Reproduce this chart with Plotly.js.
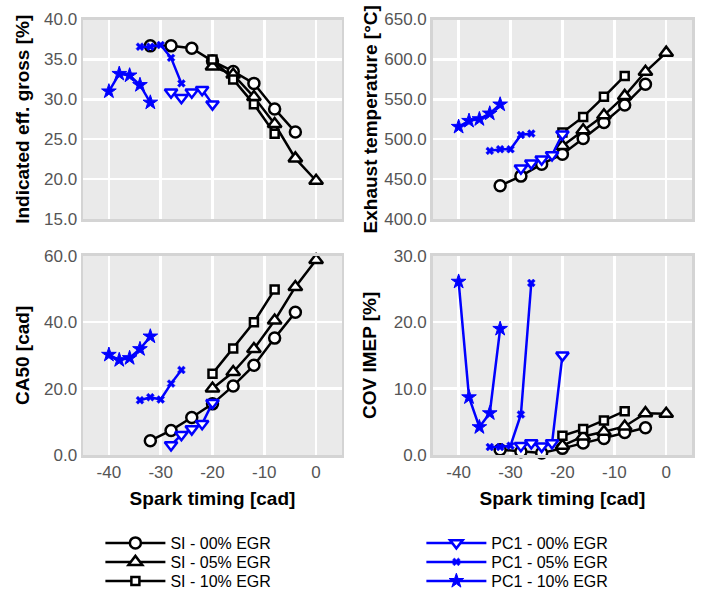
<!DOCTYPE html>
<html>
<head>
<meta charset="utf-8">
<script src="https://cdn.plot.ly/plotly-3.0.1.min.js"></script>
<style>
  html, body { margin: 0; padding: 0; background: #ffffff; }
  #chart { width: 707px; height: 592px; }
</style>
</head>
<body>
<div id="chart"></div>
<script>
// Spark timing sweeps [cad] for each operating mode
const sparkSI00 = [-32, -28, -24, -20, -16, -12, -8, -4];
const sparkSI05 = [-20, -16, -12, -8, -4, 0];
const sparkSI10 = [-20, -16, -12, -8];
const sparkPC00 = [-28, -26, -24, -22, -20];
const sparkPC05 = [-34, -32, -30, -28, -26];
const sparkPC10 = [-40, -38, -36, -34, -32];

// Indicated gross efficiency [%]
const effSI00 = [36.7, 36.7, 36.4, 34.8, 33.5, 32.0, 28.8, 25.9];
const effSI05 = [34.1, 33.1, 30.3, 26.9, 22.6, 19.8];
const effSI10 = [35.0, 32.5, 29.4, 25.7];
const effPC00 = [30.9, 30.2, 30.9, 31.2, 29.4];
const effPC05 = [36.6, 36.6, 36.8, 35.2, 32.0];
const effPC10 = [31.0, 33.2, 33.0, 31.8, 29.6];

// Exhaust temperature [°C]
const tempSI00 = [441.6, 453.8, 468.8, 481.3, 500.8, 520.9, 543.0, 569.0];
const tempSI05 = [491.6, 511.3, 530.0, 554.3, 584.5, 608.5];
const tempSI10 = [508.4, 528.0, 553.1, 579.4];
const tempPC00 = [463.6, 469.9, 474.9, 480.3, 506.3];
const tempPC05 = [485.4, 487.5, 487.5, 505.4, 507.1];
const tempPC10 = [515.6, 523.1, 525.2, 532.3, 543.6];

// CA50 [cad]
const ca50SI00 = [4.3, 7.4, 11.3, 15.4, 20.8, 27.0, 35.2, 43.0];
const ca50SI05 = [20.0, 25.0, 31.9, 40.5, 50.6, 58.7];
const ca50SI10 = [24.5, 32.1, 40.0, 49.8];
const ca50PC00 = [3.0, 6.1, 7.8, 9.4, 15.7];
const ca50PC05 = [16.5, 17.4, 16.7, 21.5, 25.6];
const ca50PC10 = [30.2, 28.6, 29.2, 31.9, 35.7];

// Coefficient of variation of IMEP [%]
const covSI00 = [0.8, 0.5, 0.3, 1.0, 1.8, 2.5, 3.4, 4.1];
const covSI05 = [1.4, 2.8, 3.5, 4.3, 6.3, 6.2];
const covSI10 = [2.9, 3.9, 5.2, 6.6];
const covPC00 = [1.4, 1.8, 1.3, 1.8, 15.0];
const covPC05 = [1.2, 1.2, 1.4, 6.1, 25.9];
const covPC10 = [26.1, 8.7, 4.2, 6.3, 19.0];

const seriesNames = ['SI - 00% EGR', 'SI - 05% EGR', 'SI - 10% EGR',
                     'PC1 - 00% EGR', 'PC1 - 05% EGR', 'PC1 - 10% EGR'];
const xTickVals = [-40, -30, -20, -10, 0];
const xTickText = ['-40', '-30', '-20', '-10', '0'];

const BLACK = '#000000';
const BLUE = '#0000ff';

const series = [
  { name: seriesNames[0], x: sparkSI00, ys: [effSI00, tempSI00, ca50SI00, covSI00], color: BLACK,
    marker: { symbol: 'circle', size: 11, color: '#ffffff', line: { color: BLACK, width: 2.5 } } },
  { name: seriesNames[1], x: sparkSI05, ys: [effSI05, tempSI05, ca50SI05, covSI05], color: BLACK,
    marker: { symbol: 'triangle-up', size: 12, color: '#ffffff', line: { color: BLACK, width: 2.5 } } },
  { name: seriesNames[2], x: sparkSI10, ys: [effSI10, tempSI10, ca50SI10, covSI10], color: BLACK,
    marker: { symbol: 'square', size: 8, color: '#ffffff', line: { color: BLACK, width: 2.5 } } },
  { name: seriesNames[3], x: sparkPC00, ys: [effPC00, tempPC00, ca50PC00, covPC00], color: BLUE,
    marker: { symbol: 'triangle-down', size: 11, color: '#ffffff', line: { color: BLUE, width: 2.5 } } },
  { name: seriesNames[4], x: sparkPC05, ys: [effPC05, tempPC05, ca50PC05, covPC05], color: BLUE,
    marker: { symbol: 'x', size: 7, color: BLUE, line: { color: BLUE, width: 0.5 } } },
  { name: seriesNames[5], x: sparkPC10, ys: [effPC10, tempPC10, ca50PC10, covPC10], color: BLUE,
    marker: { symbol: 'star', size: 11, color: BLUE, line: { color: BLUE, width: 1 } } }
];

// one single-entry legend per series: SI in the left column, PC1 in the right
const legendIds = ['legend', 'legend2', 'legend3', 'legend4', 'legend5', 'legend6'];

const axisPairs = [['x', 'y'], ['x2', 'y2'], ['x3', 'y3'], ['x4', 'y4']];
const traces = [];
series.forEach(function (s, k) {
  s.ys.forEach(function (yv, i) {
    traces.push({
      type: 'scatter',
      mode: 'lines+markers',
      x: s.x,
      y: yv,
      xaxis: axisPairs[i][0],
      yaxis: axisPairs[i][1],
      name: s.name,
      legend: legendIds[k],
      legendgroup: s.name,
      showlegend: i === 0,
      line: { color: s.color, width: 2.5 },
      marker: s.marker,
      cliponaxis: false,
      hoverinfo: 'x+y+name'
    });
  });
});

const fontFamily = 'Liberation Sans, Arial, sans-serif';
const tickFont = { family: fontFamily, size: 17, color: '#555555' };
const titleFont = { family: fontFamily, size: 19, color: '#000000', weight: 'bold' };

function xAxis(domain, anchor, withLabels) {
  return {
    domain: domain, anchor: anchor, range: [-45, 5],
    tickmode: 'array', tickvals: xTickVals, ticktext: xTickText,
    showticklabels: withLabels, ticks: '',
    tickfont: tickFont,
    showgrid: true, gridcolor: '#ffffff', gridwidth: 2.5,
    zeroline: false,
    showline: true, mirror: true, linecolor: '#d4d4d4', linewidth: 2.5,
    title: withLabels ? { text: 'Spark timing [cad]', font: titleFont, standoff: 11 } : { text: '' }
  };
}
function yAxis(domain, anchor, range, dtick, title, standoff) {
  return {
    domain: domain, anchor: anchor, range: range, dtick: dtick, tick0: 0,
    tickformat: '.1f', ticks: '',
    tickfont: tickFont,
    showgrid: true, gridcolor: '#ffffff', gridwidth: 2.5,
    zeroline: false,
    showline: true, mirror: true, linecolor: '#d4d4d4', linewidth: 2.5,
    title: { text: title, font: titleFont, standoff: standoff }
  };
}

const colL = [0.1174, 0.4837];
const colR = [0.612, 0.979];
const rowT = [0.630, 0.967];
const rowB = [0.2314, 0.568];

const legendFont = { family: fontFamily, size: 16, color: '#000000' };
const legendRows = [0.0828, 0.0507, 0.0186];
const legendCols = [0.142, 0.596];

const layout = {
  width: 707, height: 592,
  margin: { l: 0, r: 0, t: 0, b: 0, autoexpand: false },
  paper_bgcolor: '#ffffff',
  plot_bgcolor: '#eaeaea',
  showlegend: true,
  xaxis: xAxis(colL, 'y', false),
  yaxis: yAxis(rowT, 'x', [15, 40], 5, 'Indicated eff. gross [%]', 10),
  xaxis2: xAxis(colR, 'y2', false),
  yaxis2: yAxis(rowT, 'x2', [400, 650], 50, 'Exhaust temperature [°C]', 2),
  xaxis3: xAxis(colL, 'y3', true),
  yaxis3: yAxis(rowB, 'x3', [0, 60], 20, 'CA50 [cad]', 10),
  xaxis4: xAxis(colR, 'y4', true),
  yaxis4: yAxis(rowB, 'x4', [0, 30], 10, 'COV IMEP [%]', 12)
};

legendIds.forEach(function (id, k) {
  layout[id] = {
    x: legendCols[Math.floor(k / 3)], y: legendRows[k % 3],
    xanchor: 'left', yanchor: 'middle',
    bgcolor: 'rgba(0,0,0,0)', font: legendFont, itemwidth: 60
  };
});

Plotly.newPlot('chart', traces, layout, { displayModeBar: false, staticPlot: true });
</script>
</body>
</html>
